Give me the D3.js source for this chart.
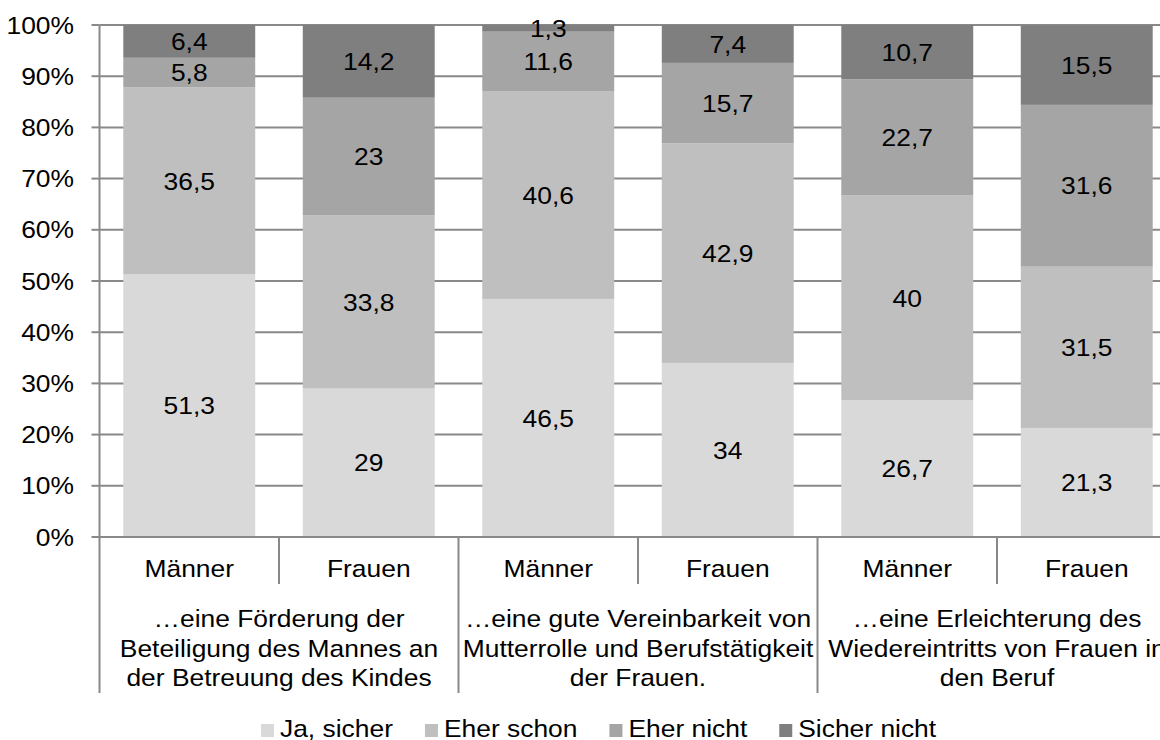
<!DOCTYPE html>
<html>
<head>
<meta charset="utf-8">
<script src="https://cdn.jsdelivr.net/npm/d3@7/dist/d3.min.js"></script>
<style>
  html, body { margin: 0; padding: 0; background: #fff; }
  svg { display: block; font-family: "Liberation Sans", Arial, sans-serif; }
</style>
</head>
<body>
<svg id="chart" width="1160" height="740"></svg>
<script>
// Stacked 100% bars: answers by gender for three measures
const groups = [
  ["…eine Förderung der", "Beteiligung des Mannes an", "der Betreuung des Kindes"],
  ["…eine gute Vereinbarkeit von", "Mutterrolle und Berufstätigkeit", "der Frauen."],
  ["…eine Erleichterung des", "Wiedereintritts von Frauen in", "den Beruf"]
];
const genders = ["Männer", "Frauen"];
const seriesNames = ["Ja, sicher", "Eher schon", "Eher nicht", "Sicher nicht"];
const seriesColors = ["#d9d9d9", "#bfbfbf", "#a5a5a5", "#7f7f7f"];

// one value per bar (Männer/Frauen for each group in order)
const jaSicher    = [51.3, 29.0, 46.5, 34.0, 26.7, 21.3];
const eherSchon   = [36.5, 33.8, 40.6, 42.9, 40.0, 31.5];
const eherNicht   = [5.8, 23.0, 11.6, 15.7, 22.7, 31.6];
const sicherNicht = [6.4, 14.2, 1.3, 7.4, 10.7, 15.5];
const valueLabels = [
  ["51,3", "29", "46,5", "34", "26,7", "21,3"],
  ["36,5", "33,8", "40,6", "42,9", "40", "31,5"],
  ["5,8", "23", "11,6", "15,7", "22,7", "31,6"],
  ["6,4", "14,2", "1,3", "7,4", "10,7", "15,5"]
];
const yTicks = [0, 10, 20, 30, 40, 50, 60, 70, 80, 90, 100];

const seriesValues = [jaSicher, eherSchon, eherNicht, sicherNicht];
const nBars = groups.length * genders.length;
const barKeys = d3.range(nBars);

const svg = d3.select("#chart");
const plotLeft = 99.5, step = 179.5, plotTop = 25, plotBottom = 537;
const axisColor = "#898989";
const fontSize = 24;
const sx = 1.1; // slightly wide lettering

const x = d3.scaleBand()
  .domain(barKeys)
  .range([plotLeft, plotLeft + step * nBars])
  .paddingInner(0.265)
  .paddingOuter(0.1325);
const y = d3.scaleLinear().domain([0, 100]).range([plotBottom, plotTop]);

// places a text at (px, py) with widened glyphs
function place(sel, px, py) {
  return sel.attr("transform", (d, i) =>
    `translate(${typeof px === "function" ? px(d, i) : px},${typeof py === "function" ? py(d, i) : py}) scale(${sx},1)`);
}

// gridlines
svg.append("g")
  .selectAll("line")
  .data(yTicks.filter(d => d > 0))
  .join("line")
  .attr("x1", plotLeft).attr("x2", plotLeft + step * nBars)
  .attr("y1", d => y(d)).attr("y2", d => y(d))
  .attr("stroke", axisColor).attr("stroke-width", 2);

// stacked bars
const rows = barKeys.map(i => {
  const r = { i };
  seriesNames.forEach((s, k) => { r[s] = seriesValues[k][i]; });
  return r;
});
const stacked = d3.stack().keys(seriesNames)(rows);

const layers = svg.append("g").selectAll("g")
  .data(stacked)
  .join("g")
  .attr("fill", (d, k) => seriesColors[k]);

layers.selectAll("rect")
  .data(d => d)
  .join("rect")
  .attr("x", d => x(d.data.i))
  .attr("width", x.bandwidth())
  .attr("y", d => y(Math.min(100, d[1])))
  .attr("height", d => y(d[0]) - y(Math.min(100, d[1])));

// value labels
const labels = svg.append("g")
  .attr("font-size", fontSize)
  .attr("fill", "#000")
  .attr("text-anchor", "middle");
stacked.forEach((layer, k) => {
  place(labels.selectAll(null)
    .data(layer)
    .join("text"),
    d => x(d.data.i) + x.bandwidth() / 2,
    d => y((d[0] + Math.min(100, d[1])) / 2))
    .attr("dy", "0.36em")
    .text((d, i) => valueLabels[k][i]);
});

// y axis ticks and labels
svg.append("g").selectAll("line")
  .data(yTicks)
  .join("line")
  .attr("x1", plotLeft - 8).attr("x2", plotLeft)
  .attr("y1", d => y(d)).attr("y2", d => y(d))
  .attr("stroke", axisColor).attr("stroke-width", 2);
place(svg.append("g")
  .attr("font-size", fontSize).attr("text-anchor", "end").attr("fill", "#000")
  .selectAll("text")
  .data(yTicks)
  .join("text"), 74, d => y(d))
  .attr("dy", "0.36em")
  .text(d => d + "%");

// axis lines
svg.append("line")
  .attr("x1", plotLeft).attr("x2", plotLeft)
  .attr("y1", plotTop).attr("y2", 693)
  .attr("stroke", axisColor).attr("stroke-width", 2);
svg.append("line")
  .attr("x1", plotLeft).attr("x2", plotLeft + step * nBars)
  .attr("y1", plotBottom).attr("y2", plotBottom)
  .attr("stroke", axisColor).attr("stroke-width", 2);

// category dividers: short between genders, long between groups
const gx = d3.scaleLinear().domain([0, nBars]).range([plotLeft, plotLeft + step * nBars]);
svg.append("g").selectAll("line")
  .data(d3.range(1, nBars))
  .join("line")
  .attr("x1", d => gx(d)).attr("x2", d => gx(d))
  .attr("y1", plotBottom)
  .attr("y2", d => d % 2 === 0 ? 693 : 584)
  .attr("stroke", axisColor).attr("stroke-width", 2);

// gender labels
place(svg.append("g")
  .attr("font-size", fontSize).attr("text-anchor", "middle").attr("fill", "#000")
  .selectAll("text")
  .data(barKeys)
  .join("text"), i => x(i) + x.bandwidth() / 2, 577)
  .text(i => genders[i % 2]);

// group labels
const gl = svg.append("g")
  .attr("font-size", fontSize).attr("text-anchor", "middle").attr("fill", "#000");
groups.forEach((lines, g) => {
  const cx = gx(g * 2 + 1);
  place(gl.selectAll(null)
    .data(lines)
    .join("text"), cx, (d, j) => 627 + j * 29.7)
    .text(d => d);
});

// legend
const legend = svg.append("g").attr("font-size", fontSize).attr("fill", "#000");
let lx = 261;
seriesNames.forEach((name, k) => {
  legend.append("rect")
    .attr("x", lx).attr("y", 724)
    .attr("width", 13).attr("height", 13)
    .attr("fill", seriesColors[k]);
  const t = legend.append("text")
    .attr("transform", `translate(${lx + 19},736.5) scale(${sx},1)`)
    .text(name);
  lx += 19 + t.node().getComputedTextLength() * sx + 32;
});
</script>
</body>
</html>
